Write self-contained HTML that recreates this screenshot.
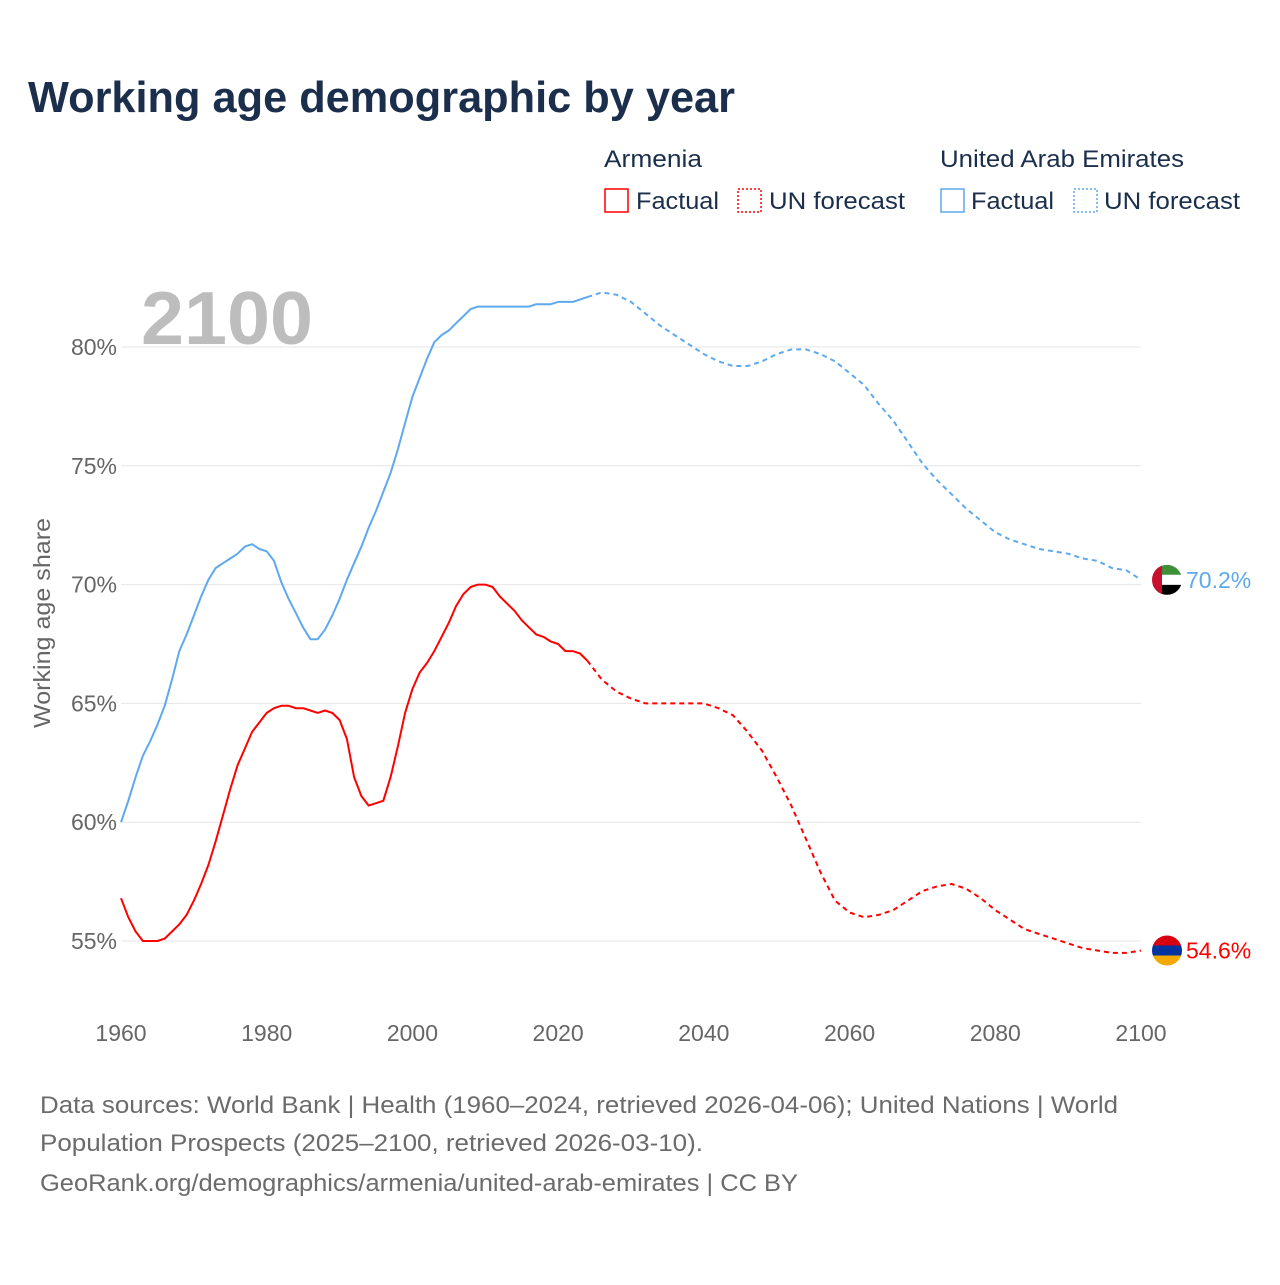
<!DOCTYPE html>
<html><head><meta charset="utf-8">
<style>
body{margin:0;background:#fff;font-family:"Liberation Sans",sans-serif;}
svg text{font-family:"Liberation Sans",sans-serif;}
</style></head>
<body>
<svg width="1280" height="1280" xmlns="http://www.w3.org/2000/svg" id="chart">
<text x="28" y="112" font-size="44" font-weight="bold" fill="#1b2f4c" textLength="707" lengthAdjust="spacingAndGlyphs">Working age demographic by year</text>
<g>
<text x="604" y="167" font-size="24" fill="#1b2f4c" textLength="98" lengthAdjust="spacingAndGlyphs">Armenia</text>
<rect x="605" y="189" width="23" height="23" fill="none" stroke="#f00" stroke-width="1.5"/>
<text x="636" y="209" font-size="24" fill="#1b2f4c" textLength="83" lengthAdjust="spacingAndGlyphs">Factual</text>
<rect x="738" y="189" width="23" height="23" fill="none" stroke="#f00" stroke-width="1.5" stroke-dasharray="2,2"/>
<text x="769" y="209" font-size="24" fill="#1b2f4c" textLength="136" lengthAdjust="spacingAndGlyphs">UN forecast</text>
<text x="940" y="167" font-size="24" fill="#1b2f4c" textLength="244" lengthAdjust="spacingAndGlyphs">United Arab Emirates</text>
<rect x="941" y="189" width="23" height="23" fill="none" stroke="#5ea9ee" stroke-width="1.5"/>
<text x="971" y="209" font-size="24" fill="#1b2f4c" textLength="83" lengthAdjust="spacingAndGlyphs">Factual</text>
<rect x="1074" y="189" width="23" height="23" fill="none" stroke="#5ea9ee" stroke-width="1.5" stroke-dasharray="2,2"/>
<text x="1104" y="209" font-size="24" fill="#1b2f4c" textLength="136" lengthAdjust="spacingAndGlyphs">UN forecast</text>
</g>
<text x="141" y="344" font-size="75" font-weight="bold" fill="#bdbdbd" textLength="172" lengthAdjust="spacingAndGlyphs">2100</text>
<text transform="translate(50,623) rotate(-90)" text-anchor="middle" font-size="23" fill="#666" textLength="210" lengthAdjust="spacingAndGlyphs">Working age share</text>
<g id="grid"></g>
<g id="series"></g>
<g id="flags"></g>
<text x="40" y="1113" font-size="24" fill="#6b6b6b" textLength="1078" lengthAdjust="spacingAndGlyphs">Data sources: World Bank | Health (1960–2024, retrieved 2026-04-06); United Nations | World</text>
<text x="40" y="1151" font-size="24" fill="#6b6b6b" textLength="663" lengthAdjust="spacingAndGlyphs">Population Prospects (2025–2100, retrieved 2026-03-10).</text>
<text x="40" y="1191" font-size="24" fill="#6b6b6b" textLength="758" lengthAdjust="spacingAndGlyphs">GeoRank.org/demographics/armenia/united-arab-emirates | CC BY</text>
</svg>
<script>
const yTicks=[55,60,65,70,75,80];
const xTicks=[1960,1980,2000,2020,2040,2060,2080,2100];
const uaeYears=[1960,1961,1962,1963,1964,1965,1966,1967,1968,1969,1970,1971,1972,1973,1974,1975,1976,1977,1978,1979,1980,1981,1982,1983,1984,1985,1986,1987,1988,1989,1990,1991,1992,1993,1994,1995,1996,1997,1998,1999,2000,2001,2002,2003,2004,2005,2006,2007,2008,2009,2010,2016,2017,2019,2020,2022,2024,2026,2028,2030,2032,2034,2036,2038,2040,2042,2044,2046,2048,2050,2052,2054,2056,2058,2060,2062,2064,2066,2068,2070,2072,2074,2076,2078,2080,2082,2084,2086,2088,2090,2092,2094,2096,2098,2100];
const uaeValues=[60.0,60.9,61.9,62.8,63.4,64.1,64.9,66.0,67.2,67.9,68.7,69.5,70.2,70.7,70.9,71.1,71.3,71.6,71.7,71.5,71.4,71.0,70.1,69.4,68.8,68.2,67.7,67.7,68.1,68.7,69.4,70.2,70.9,71.6,72.4,73.1,73.9,74.7,75.7,76.8,77.9,78.7,79.5,80.2,80.5,80.7,81.0,81.3,81.6,81.7,81.7,81.7,81.8,81.8,81.9,81.9,82.1,82.3,82.2,81.9,81.4,80.9,80.5,80.1,79.7,79.4,79.2,79.2,79.4,79.7,79.9,79.9,79.7,79.4,78.9,78.4,77.6,76.9,76.0,75.1,74.4,73.8,73.2,72.7,72.2,71.9,71.7,71.5,71.4,71.3,71.1,71.0,70.7,70.6,70.2];
const armYears=[1960,1961,1962,1963,1964,1965,1966,1967,1968,1969,1970,1971,1972,1973,1974,1975,1976,1977,1978,1979,1980,1981,1982,1983,1984,1985,1986,1987,1988,1989,1990,1991,1992,1993,1994,1995,1996,1997,1998,1999,2000,2001,2002,2003,2004,2005,2006,2007,2008,2009,2010,2011,2012,2013,2014,2015,2016,2017,2018,2019,2020,2021,2022,2023,2024,2025,2026,2028,2030,2032,2040,2042,2044,2046,2048,2050,2052,2054,2056,2058,2060,2062,2064,2066,2068,2070,2072,2074,2076,2078,2080,2082,2084,2086,2088,2090,2092,2094,2096,2098,2100];
const armValues=[56.8,56.0,55.4,55.0,55.0,55.0,55.1,55.4,55.7,56.1,56.7,57.4,58.2,59.2,60.3,61.4,62.4,63.1,63.8,64.2,64.6,64.8,64.9,64.9,64.8,64.8,64.7,64.6,64.7,64.6,64.3,63.5,61.9,61.1,60.7,60.8,60.9,61.9,63.2,64.6,65.6,66.3,66.7,67.2,67.8,68.4,69.1,69.6,69.9,70.0,70.0,69.9,69.5,69.2,68.9,68.5,68.2,67.9,67.8,67.6,67.5,67.2,67.2,67.1,66.8,66.4,66.0,65.5,65.2,65.0,65.0,64.8,64.5,63.8,63.0,61.9,60.7,59.3,57.9,56.7,56.2,56.0,56.1,56.3,56.7,57.1,57.3,57.4,57.2,56.8,56.3,55.9,55.5,55.3,55.1,54.9,54.7,54.6,54.5,54.5,54.6];
const lastFactual=2024;
const NS="http://www.w3.org/2000/svg";
const x=y=>121+(y-1960)*(1020/140);
const yS=v=>941-(v-55)*(594/25);
const grid=document.getElementById('grid');
yTicks.forEach(t=>{
 const l=document.createElementNS(NS,'line');
 l.setAttribute('x1',121);l.setAttribute('x2',1141);l.setAttribute('y1',yS(t));l.setAttribute('y2',yS(t));
 l.setAttribute('stroke','#e6e6e6');l.setAttribute('stroke-width','1');
 
 
 grid.appendChild(l);
 const tx=document.createElementNS(NS,'text');
 tx.setAttribute('x',117);tx.setAttribute('y',yS(t)+8);tx.setAttribute('text-anchor','end');
 tx.setAttribute('font-size','23');tx.setAttribute('fill','#666');tx.textContent=t+'%';
 
 
 grid.appendChild(tx);
});
xTicks.forEach(t=>{
 const tx=document.createElementNS(NS,'text');
 tx.setAttribute('x',x(t));tx.setAttribute('y',1041);tx.setAttribute('text-anchor','middle');
 tx.setAttribute('font-size','23');tx.setAttribute('fill','#666');tx.textContent=t;
 
 
 grid.appendChild(tx);
});
const ser=document.getElementById('series');
function draw(years,vals,color,name){
 const f=[],fc=[];
 years.forEach((yr,i)=>{const p=x(yr).toFixed(1)+','+yS(vals[i]).toFixed(1);if(yr<=lastFactual)f.push(p);if(yr>=lastFactual)fc.push(p);});
 [[f,null,'factual'],[fc,'5,4','forecast']].forEach(([pts,dash,k])=>{
  const pl=document.createElementNS(NS,'polyline');
  pl.setAttribute('points',pts.join(' '));pl.setAttribute('fill','none');pl.setAttribute('stroke',color);
  pl.setAttribute('stroke-width','2');pl.setAttribute('stroke-linejoin','round');
  if(dash)pl.setAttribute('stroke-dasharray',dash);
  
  
  ser.appendChild(pl);
 });
 const v=vals[vals.length-1];
 const tx=document.createElementNS(NS,'text');
 tx.setAttribute('x',1186);tx.setAttribute('y',yS(v)+8);tx.setAttribute('font-size','23');tx.setAttribute('fill',color);
 tx.textContent=v.toFixed(1)+'%';
 
 
 ser.appendChild(tx);
}
draw(uaeYears,uaeValues,'#5ea9ee','uae');
draw(armYears,armValues,'#ff0000','armenia');
const flags=document.getElementById('flags');
function flag(cy,name,html){
 const g=document.createElementNS(NS,'g');
 
 
 g.innerHTML='<clipPath id="c'+name+'"><circle cx="1167" cy="'+cy+'" r="15"/></clipPath><g clip-path="url(#c'+name+')">'+html+'</g>';
 flags.appendChild(g);
}
const ua=yS(uaeValues[uaeValues.length-1]), ar=yS(armValues[armValues.length-1]);
flag(ua,'uae-flag','<rect x="1152" y="'+(ua-15)+'" width="30" height="10" fill="#3f8f3a"/><rect x="1152" y="'+(ua-5)+'" width="30" height="10" fill="#fff"/><rect x="1152" y="'+(ua+5)+'" width="30" height="10" fill="#000"/><rect x="1152" y="'+(ua-15)+'" width="10" height="30" fill="#c8102e"/>');
flag(ar,'armenia-flag','<rect x="1152" y="'+(ar-15)+'" width="30" height="10" fill="#d90012"/><rect x="1152" y="'+(ar-5)+'" width="30" height="10" fill="#0033a0"/><rect x="1152" y="'+(ar+5)+'" width="30" height="10" fill="#f2a800"/>');
</script>
</body></html>
